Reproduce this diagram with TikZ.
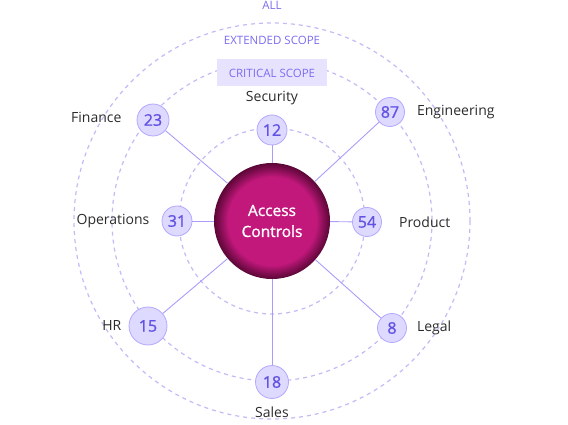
\documentclass[tikz,border=0pt]{standalone}
\usepackage{fontspec}
\setmainfont{Open Sans}
\newfontfamily\semifont[FakeBold=1.2]{Open Sans}
\usetikzlibrary{positioning}

\definecolor{ringcol}{HTML}{C2BBF6}
\definecolor{linkcol}{HTML}{A89EFA}
\definecolor{bubfill}{HTML}{DDD9FF}
\definecolor{bubdraw}{HTML}{B3A8FF}
\definecolor{bubtext}{HTML}{6252E2}
\definecolor{scopetext}{HTML}{7B6CF0}
\definecolor{scopefill}{HTML}{E7E3FF}
\definecolor{coreinner}{HTML}{C2187C}
\definecolor{coreouter}{HTML}{5C0737}
\definecolor{labeltext}{HTML}{2B2B2B}

\pgfdeclareradialshading{coreshade}{\pgfpointorigin}{%
  color(0bp)=(coreinner); color(19bp)=(coreinner);
  color(23bp)=(coreouter!70!coreinner); color(25bp)=(coreouter);
  color(50bp)=(coreouter)}

\tikzset{
  ring/.style={draw=ringcol, line width=1.2pt, dash pattern=on 4pt off 4pt},
  link/.style={draw=linkcol, line width=0.9pt},
  bubble/.style={circle, draw=bubdraw, fill=bubfill, text=bubtext,
    minimum size=#1, inner sep=0pt, line width=0.8pt,
    font=\semifont\fontsize{16}{16}\selectfont},
  bubble/.default=30pt,
  dept/.style={text=labeltext, inner sep=0pt, font=\fontsize{14}{14}\selectfont},
  scope/.style={text=scopetext, inner sep=0pt, font=\fontsize{11.5}{12}\selectfont}
}

\begin{document}
\begin{tikzpicture}[x=1pt, y=-1pt]
  \def\cx{272}
  \def\cy{221}

  % Fixed bounding box
  \path[use as bounding box] (0,0) rectangle (568,425);

  % Dashed scope rings
  \foreach \r in {93,160,198} {
    \draw[ring] (\cx,\cy) circle[radius=\r];
  }

  % Scope labels
  \node[scope] (all) at (\cx,5) {ALL};
  \node[scope] (extended) at (\cx,40) {EXTENDED SCOPE};
  \node[scope, fill=scopefill, minimum width=110pt, minimum height=27pt] (critical) at (\cx,73) {CRITICAL SCOPE};

  % Centre
  \node[circle, minimum size=116pt, inner sep=0pt, shading=coreshade, text=white, align=center,
    font=\semifont\fontsize{15.5}{21}\selectfont] (core) at (\cx,\cy) {Access\\Controls};

  % Department bubbles
  \foreach \val/\x/\y/\s in {12/272/130/30pt, 87/390/112/29pt, 54/367/222/29pt, 8/392/328/29pt,
                             18/272/382/33pt, 15/148/326/38pt, 31/177/221/30pt, 23/153/120/32pt} {
    \node[bubble=\s] (b\val) at (\x,\y) {\val};
    \draw[link] (core) -- (b\val);
  }

  % Department names
  \node[dept, above=10pt of b12] (security) {Security};
  \node[dept, right=12pt of b87] (engineering) {Engineering};
  \node[dept, right=17pt of b54] (product) {Product};
  \node[dept, right=10pt of b8] (legal) {Legal};
  \node[dept, below=8pt of b18] (sales) {Sales};
  \node[dept, left=7pt of b15] (hr) {HR};
  \node[dept, left=12pt of b31] (operations) {Operations};
  \node[dept, left=15pt of b23, yshift=3pt] (finance) {Finance};

\end{tikzpicture}
\end{document}
